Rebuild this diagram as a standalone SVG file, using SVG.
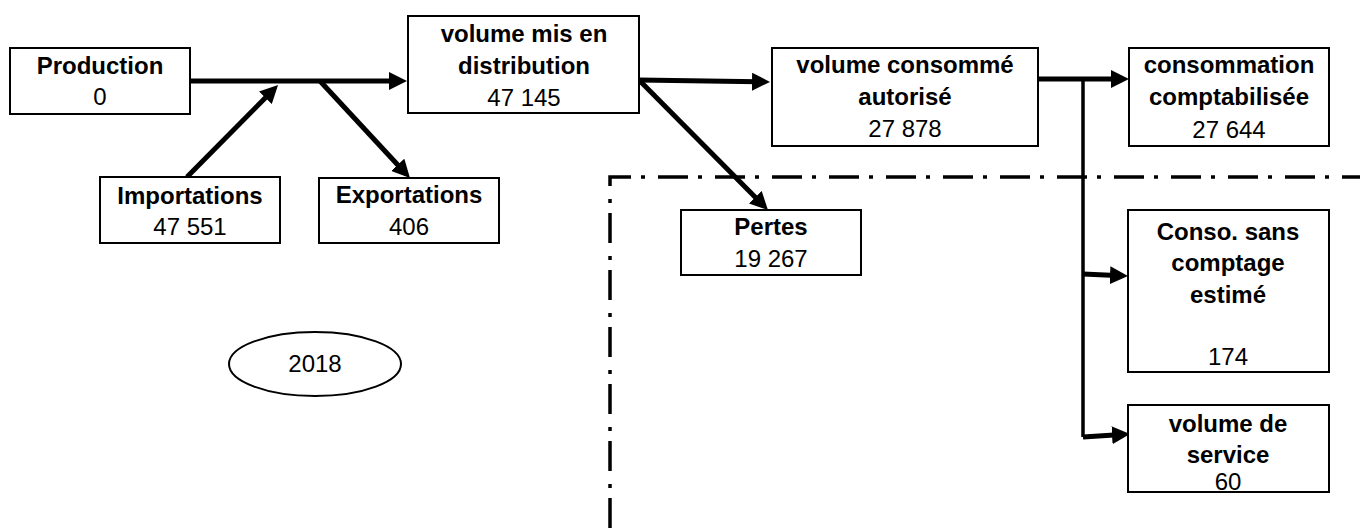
<svg xmlns="http://www.w3.org/2000/svg" width="1360" height="528" viewBox="0 0 1360 528">
<defs>
<style>
.box{fill:#fff;stroke:#000;stroke-width:2}
.t{font-family:"Liberation Sans",Arial,sans-serif;font-size:24px;fill:#000;text-anchor:middle}
.b{font-weight:bold}
.c{fill:none;stroke:#000;stroke-width:5}
.v{fill:none;stroke:#000;stroke-width:3.5}
.dd{fill:none;stroke:#000;stroke-width:3.5;stroke-dasharray:30 10 4 13}
</style>
<marker id="ah" viewBox="0 0 18 18" refX="6" refY="9" markerWidth="18" markerHeight="18" markerUnits="userSpaceOnUse" orient="auto">
<path d="M0,0 L18,9 L0,18 Z" fill="#000"/>
</marker>
</defs>
<rect width="1360" height="528" fill="#fff"/>
<path class="dd" d="M610,528 V177 H1360"/>
<g id="connectors">
<line class="c" x1="191" y1="81" x2="395" y2="81" marker-end="url(#ah)"/>
<line class="c" x1="187" y1="177" x2="269.6" y2="93.5" marker-end="url(#ah)"/>
<line class="c" x1="320" y1="81" x2="401.8" y2="169.2" marker-end="url(#ah)"/>
<line class="c" x1="639" y1="80" x2="758" y2="81.8" marker-end="url(#ah)"/>
<line class="c" x1="640" y1="81" x2="759.5" y2="201.5" marker-end="url(#ah)"/>
<line class="c" x1="1039" y1="79" x2="1117" y2="79" marker-end="url(#ah)"/>
<line class="v" x1="1083" y1="79" x2="1083" y2="437"/>
<line class="c" x1="1083" y1="274" x2="1116" y2="275.5" marker-end="url(#ah)"/>
<line class="c" x1="1083" y1="437" x2="1118" y2="434.8" marker-end="url(#ah)"/>
</g>
<g id="production">
<rect class="box" x="10" y="48" width="180" height="66"/>
<text class="t b" x="100" y="74">Production</text>
<text class="t" x="100" y="105">0</text>
</g>
<g id="importations">
<rect class="box" x="100" y="177" width="180" height="66"/>
<text class="t b" x="190" y="204">Importations</text>
<text class="t" x="190" y="235">47 551</text>
</g>
<g id="exportations">
<rect class="box" x="319" y="178" width="180" height="65"/>
<text class="t b" x="409" y="203">Exportations</text>
<text class="t" x="409" y="235">406</text>
</g>
<g id="volume-mis">
<rect class="box" x="408" y="16" width="231" height="97"/>
<text class="t b" x="524" y="42">volume mis en</text>
<text class="t b" x="524" y="74">distribution</text>
<text class="t" x="524" y="106">47 145</text>
</g>
<g id="pertes">
<rect class="box" x="681" y="210" width="180" height="65"/>
<text class="t b" x="771" y="235">Pertes</text>
<text class="t" x="771" y="267">19 267</text>
</g>
<g id="volume-consomme">
<rect class="box" x="772" y="48" width="266" height="98"/>
<text class="t b" x="905" y="73">volume consommé</text>
<text class="t b" x="905" y="105">autorisé</text>
<text class="t" x="905" y="137">27 878</text>
</g>
<g id="consommation">
<rect class="box" x="1129" y="48" width="200" height="98"/>
<text class="t b" x="1229" y="73">consommation</text>
<text class="t b" x="1229" y="105">comptabilisée</text>
<text class="t" x="1229" y="138">27 644</text>
</g>
<g id="conso-sans">
<rect class="box" x="1128" y="210" width="201" height="162"/>
<text class="t b" x="1228" y="240">Conso. sans</text>
<text class="t b" x="1228" y="271">comptage</text>
<text class="t b" x="1228" y="303">estimé</text>
<text class="t" x="1228" y="365">174</text>
</g>
<g id="volume-service">
<rect class="box" x="1128" y="405" width="201" height="87"/>
<text class="t b" x="1228" y="432">volume de</text>
<text class="t b" x="1228" y="463">service</text>
<text class="t" x="1228" y="490">60</text>
</g>
<g id="year">
<ellipse cx="315" cy="364" rx="86" ry="32" fill="#fff" stroke="#000" stroke-width="2"/>
<text class="t" x="315" y="372">2018</text>
</g>
</svg>
